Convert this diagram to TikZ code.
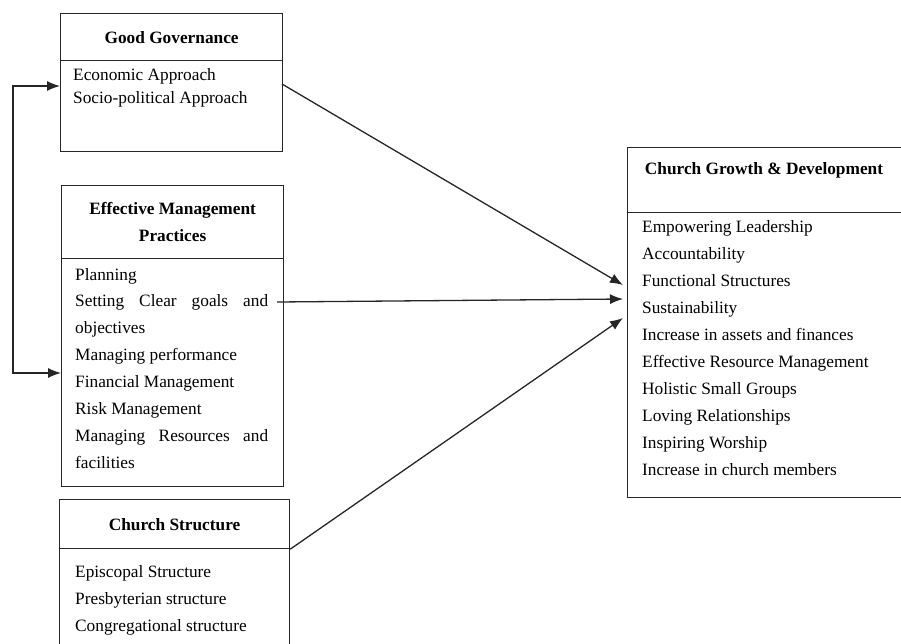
\documentclass[tikz,border=0pt]{standalone}
\usepackage{fontspec}
\setmainfont{Liberation Serif}
\usetikzlibrary{arrows.meta}

\begin{document}
\begin{tikzpicture}[x=1pt, y=-1pt,
	box/.style={draw=black!85, line width=1.2pt, anchor=north west, inner sep=0pt},
	head/.style={font=\fontsize{17.3}{27}\selectfont\bfseries, align=center},
	item/.style={font=\fontsize{17.3}{27}\selectfont, anchor=base west, inner sep=0pt},
	link/.style={-{Latex[length=13pt,width=10pt]}, line width=1.3pt, color=black!85}]

	\useasboundingbox (0,0) rectangle (901,643);
	\clip (0,0) rectangle (901,643);

	% left column
	\node[box, head, minimum width=222pt, minimum height=47pt](ggtitle) at (60,13){Good Governance};
	\node[box, minimum width=222pt, minimum height=91pt](ggbody) at (60,60){};
	\node[box, head, minimum width=222pt, minimum height=73pt](emptitle) at (61,185){Effective Management\\Practices};
	\node[box, minimum width=222pt, minimum height=228pt](empbody) at (61,258){};
	\node[box, head, minimum width=230pt, minimum height=49pt](cstitle) at (59,499){Church Structure};
	\node[box, minimum width=230pt, minimum height=130pt](csbody) at (59,548){};

	% right column
	\node[box, minimum width=290pt, minimum height=65pt](cgdtitle) at (627,147){};
	\node[head, anchor=base, inner sep=0pt](cgdhead) at (764,174){Church Growth \& Development};
	\node[box, minimum width=290pt, minimum height=285pt](cgdbody) at (627,212){};

	\foreach \txt [count=\i] in {Economic Approach, Socio-political Approach}
		\node[item](gg-\i) at (73,{80+23*(\i-1)}){\txt};

	\foreach \txt [count=\i] in {Planning, {\makebox[193pt][s]{Setting Clear goals and}}, objectives,
		Managing performance, Financial Management, Risk Management,
		{\makebox[193pt][s]{Managing Resources and}}, facilities}
		\node[item](emp-\i) at (75,{280+26.9*(\i-1)}){\txt};

	\foreach \txt [count=\i] in {Episcopal Structure, Presbyterian structure, Congregational structure}
		\node[item](cs-\i) at (75,{577+27*(\i-1)}){\txt};

	\foreach \txt [count=\i] in {Empowering Leadership, Accountability, Functional Structures, Sustainability,
		Increase in assets and finances, Effective Resource Management, Holistic Small Groups,
		Loving Relationships, Inspiring Worship, Increase in church members}
		\node[item](cgd-\i) at (642,{232+27*(\i-1)}){\txt};

	% connectors
	\coordinate (ggin) at (60,86);
	\coordinate (empin) at (61,373);
	\coordinate (ggout) at (282,84);
	\coordinate (empout) at (277,302);
	\coordinate (tipa) at (623,285);
	\coordinate (tipb) at (623,299);
	\coordinate (tipc) at (623,318);

	\draw[link, {Latex[length=13pt,width=10pt]}-{Latex[length=13pt,width=10pt]}] (ggin) -- ++(-47,0) |- (empin);
	\draw[link] (ggout) -- (tipa);
	\draw[link] (empout) -- (tipb);
	\draw[link] (cstitle.south east) -- (tipc);

\end{tikzpicture}
\end{document}
